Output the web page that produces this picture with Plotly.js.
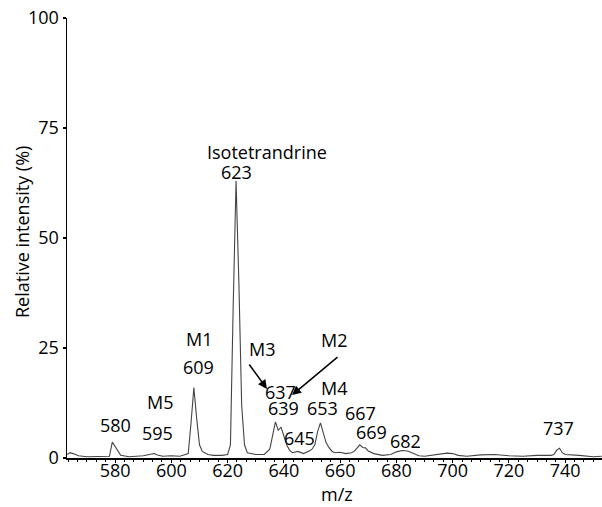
<!DOCTYPE html>
<html>
<head>
<meta charset="utf-8">
<script src="https://cdn.plot.ly/plotly-3.0.1.min.js"></script>
<style>html,body{margin:0;padding:0;background:#fff;}#chart{width:602px;height:507px;}</style>
</head>
<body>
<div id="chart"></div>
<script>
// Spectrum profile
const mz = [563,564,565,567,570,575,578,579,580,581,582,585,590,593,594,595,597,600,603,605,606,607,608,609,610,611,613,615,618,620,621,622,623,624,625,626,627,630,633,635,636,637,638,639,640,641,642,643,645,647,649,650,651,652,653,654,655,656,657,658,660,662,664,665,666,667,668,669,670,672,675,678,680,682,684,686,688,690,695,698,700,702,705,710,715,720,725,730,735,736,737,738,739,740,745,750,753];
const intensity = [0.8,1.2,1.0,0.5,0.3,0.3,0.4,3.6,2.6,1.4,0.6,0.3,0.5,0.9,1.0,0.7,0.4,0.5,0.4,0.8,1.0,8,16,9,3,1.5,0.8,0.6,0.6,0.8,3,35,63,40,12,3,1.2,0.8,0.8,2,5,8.2,6.3,7,5,3,1.8,1.2,1.5,1.0,1.6,2.0,3,6,8,5.5,3.5,2.4,1.6,1.2,1.3,1.0,1.2,1.5,2.2,3.0,2.4,2.3,1.6,1.0,0.6,0.8,1.4,1.7,1.6,1.0,0.5,0.4,0.8,1.1,1.0,0.6,0.4,0.7,0.8,0.5,0.4,0.6,0.6,0.8,1.8,2.2,1.2,0.8,0.6,0.3,0.4];

const xTicks = [580,600,620,640,660,680,700,720,740];
const yTicks = [0,25,50,75,100];

const xTitle = 'm/z';
const yTitle = 'Relative intensity (%)';

// Peak labels: text, x, y (data units)
const labelText = ['580','M5','595','M1','609','Isotetrandrine','623','M3','637','639','645','653','M4','M2','667','669','682','737'];
const labelX    = [580,596,594.9,609.8,609.8,634,623,632.2,638.9,639.7,645.7,653.6,657.8,657.8,667.4,671,683.1,737.8];
const labelY    = [7.5,12.7,5.7,27,20.7,69.6,64.9,24.8,14.9,11.3,4.5,11.4,15.9,26.8,10.2,5.9,3.9,6.8];

// Arrows: from (x0,y0) to (x1,y1)
const arrowX0 = [627.3,659.6];
const arrowY0 = [21.6,23.2];
const arrowX1 = [634.0,642.9];
const arrowY1 = [15.7,14.3];

const FONT = 'Open Sans, DejaVu Sans, sans-serif';
const FS = 18;
const W = 602, H = 507, ML = 67, MR = 0, MT = 18, MB = 49;
const PW = W - ML - MR, PH = H - MT - MB;

const annotations = labelText.map((t,i)=>({
  text: t, x: labelX[i], y: labelY[i], xref:'x', yref:'y',
  showarrow:false, font:{family:FONT,size:FS,color:'#000'},
  xanchor:'center', yanchor:'middle'
}));
arrowX0.forEach((x0,i)=>{
  annotations.push({
    text:'', x: arrowX1[i], y: arrowY1[i], ax: x0, ay: arrowY0[i],
    xref:'x', yref:'y', axref:'x', ayref:'y',
    showarrow:true, arrowhead:2, arrowsize:1.2, arrowwidth:1.5, arrowcolor:'#000'
  });
});
// axis titles placed as annotations (paper coords)
annotations.push({
  text: xTitle, xref:'paper', yref:'paper',
  x: (337-ML)/PW, y: -(494-(H-MB))/PH,
  xanchor:'center', yanchor:'middle', showarrow:false,
  font:{family:FONT,size:FS,color:'#000'}
});
annotations.push({
  text: yTitle, xref:'paper', yref:'paper',
  x: (22-ML)/PW, y: ((H-MB)-232)/PH,
  xanchor:'center', yanchor:'middle', showarrow:false, textangle:-90,
  font:{family:FONT,size:FS,color:'#000'}
});

const trace = {
  x: mz, y: intensity, type:'scatter', mode:'lines',
  line:{color:'#444', width:1.1}, hoverinfo:'skip'
};

const layout = {
  width:W, height:H,
  margin:{l:ML, r:MR, t:MT, b:MB},
  paper_bgcolor:'#fff', plot_bgcolor:'#fff',
  showlegend:false,
  font:{family:FONT, size:FS, color:'#000'},
  xaxis:{
    range:[562.9,753.1], tickvals:xTicks, ticktext:xTicks.map(String),
    ticks:'outside', ticklen:3, tickwidth:1.2, tickcolor:'#000',
    ticklabelstandoff:-7,
    showline:true, linecolor:'#000', linewidth:1.5,
    showgrid:false, zeroline:false,
    minor:{dtick:10/3, tick0:580, ticks:'outside', ticklen:2, tickcolor:'#000', tickwidth:1, showgrid:false},
    tickfont:{family:FONT,size:FS},
    automargin:false
  },
  yaxis:{
    range:[0,100], tickvals:yTicks, ticktext:yTicks.map(String),
    ticks:'outside', ticklen:3, tickwidth:1.2, tickcolor:'#000',
    showline:true, linecolor:'#000', linewidth:1.5,
    showgrid:false, zeroline:false,
    tickfont:{family:FONT,size:FS},
    automargin:false
  },
  annotations: annotations
};

Plotly.newPlot('chart',[trace],layout,{displayModeBar:false,staticPlot:true});
</script>
</body>
</html>
